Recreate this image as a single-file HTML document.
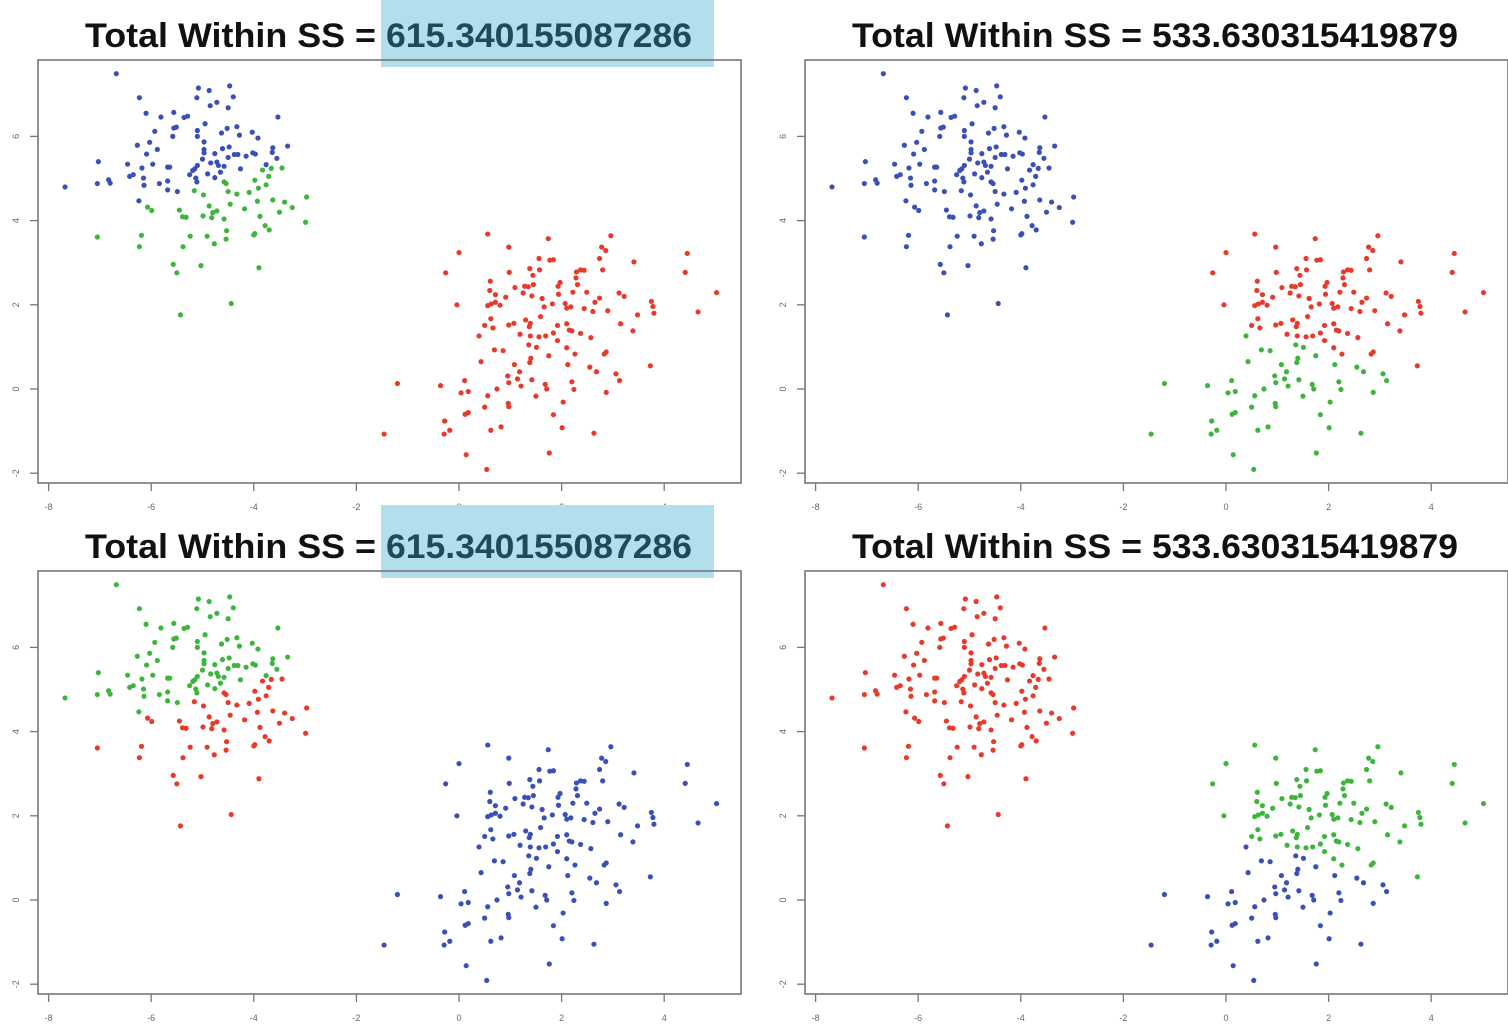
<!DOCTYPE html>
<html><head><meta charset="utf-8"><style>
body{margin:0;background:#fff;width:1508px;height:1028px;overflow:hidden}
svg{display:block}
</style></head><body>
<svg id="chart" width="1508" height="1028" font-family="Liberation Sans, sans-serif"></svg>
<script>
const leftUpperX=[-6.68,-6.23,-5.08,-4.87,-4.47,-4.40,-5.11,-4.72,-4.85,-4.50,-6.10,-5.81,-5.56,-5.36,-5.29,-3.53,-4.95,-5.56,-5.51,-5.93,-5.58,-5.10,-5.10,-4.52,-4.33,-4.63,-4.28,-4.03,-3.92,-6.27,-6.03,-5.88,-4.97,-4.97,-4.97,-4.61,-4.48,-4.76,-4.50,-4.38,-4.31,-4.15,-4.02,-3.97,-3.63,-3.64,-3.34,-3.55,-6.09,-7.03,-6.46,-5.97,-6.18,-5.68,-5.64,-6.42,-6.35,-6.15,-6.14,-6.83,-6.80,-7.05,-7.68,-5.84,-5.68,-5.68,-5.49,-5.25,-5.19,-5.15,-5.10,-5.13,-5.11,-5.00,-4.84,-4.72,-4.69,-4.58,-4.65,-4.90,-4.76,-4.26,-3.76,-6.24];
const leftUpperY=[7.49,6.92,7.15,7.09,7.20,6.94,6.92,6.81,6.73,6.68,6.55,6.46,6.57,6.45,6.48,6.46,6.30,6.20,6.22,6.12,6.00,6.14,6.00,6.19,6.23,6.08,6.03,6.10,5.96,5.79,5.86,5.69,5.87,5.69,5.61,5.71,5.75,5.59,5.50,5.57,5.57,5.53,5.61,5.58,5.73,5.62,5.77,5.48,5.58,5.40,5.34,5.34,5.25,5.27,5.27,5.05,5.09,5.01,4.84,4.97,4.89,4.88,4.80,4.88,4.94,4.73,4.69,5.09,5.19,5.23,5.31,5.01,4.92,5.46,5.37,5.39,5.31,5.29,5.15,5.11,5.02,5.23,5.33,4.47];
const leftLowerX=[-3.83,-3.66,-3.45,-3.71,-3.98,-3.76,-3.91,-4.09,-4.58,-4.54,-4.50,-4.33,-5.16,-4.98,-2.97,-4.46,-4.18,-3.93,-3.63,-3.40,-3.25,-3.50,-3.88,-4.87,-4.72,-4.80,-4.82,-4.99,-4.58,-5.45,-5.39,-5.32,-6.07,-5.99,-7.05,-6.19,-6.23,-5.24,-4.91,-4.53,-4.54,-4.77,-5.38,-4.00,-3.98,-3.78,-3.70,-2.99,-5.57,-5.50,-5.03,-3.90,-4.44,-5.43];
const leftLowerY=[5.20,5.24,5.25,5.05,4.96,4.85,4.77,4.67,4.92,4.88,4.69,4.63,4.71,4.61,4.56,4.39,4.28,4.46,4.49,4.44,4.31,4.20,4.10,4.35,4.23,4.19,4.07,4.11,4.04,4.25,4.09,4.08,4.32,4.24,3.61,3.65,3.38,3.63,3.63,3.76,3.56,3.45,3.38,3.66,3.69,3.88,3.78,3.96,2.96,2.76,2.93,2.88,2.03,1.76];
const rightUpperX=[0.56,1.74,2.96,0.97,0.00,2.78,2.86,4.45,1.56,1.77,1.84,2.74,3.41,-0.26,0.98,1.38,1.57,2.29,2.37,2.44,2.80,4.41,1.44,2.28,0.61,1.28,1.35,1.45,1.09,1.97,1.93,2.31,0.60,0.71,1.25,1.42,0.91,1.62,2.22,2.49,3.12,3.22,2.74,2.65,5.02,1.94,-0.04,0.56,0.63,0.71,0.80,1.66,1.82,2.07,2.10,2.18,2.44,2.61,2.90,3.75,3.78,3.80,4.66,3.48,0.62,0.50,0.66,0.97,1.07,1.30,1.39,1.37,1.59,1.92,2.10,2.15,2.20,3.15,3.39,1.19,1.39,1.56,1.69,1.84,1.92,2.37,2.57,2.10,2.26,2.83,2.87,3.73];
const rightUpperY=[3.68,3.57,3.64,3.37,3.24,3.37,3.29,3.22,3.10,3.06,3.07,3.10,3.02,2.76,2.77,2.86,2.83,2.78,2.83,2.82,2.83,2.77,2.70,2.64,2.56,2.44,2.43,2.48,2.41,2.53,2.44,2.48,2.34,2.24,2.28,2.21,2.18,2.15,2.30,2.30,2.28,2.20,2.16,2.06,2.29,2.25,2.00,1.98,2.02,2.06,1.99,1.95,2.02,2.03,1.92,1.95,1.91,1.84,1.86,2.08,1.96,1.80,1.83,1.76,1.67,1.51,1.45,1.52,1.56,1.64,1.56,1.48,1.72,1.51,1.55,1.40,1.38,1.55,1.38,1.30,1.26,1.24,1.26,1.33,1.15,1.32,1.22,0.98,0.83,0.83,0.88,0.55];
const rightLowerX=[0.39,1.36,1.51,0.69,0.86,1.75,0.43,1.08,1.18,1.38,1.40,2.12,2.55,2.68,3.06,3.13,0.11,-1.20,-0.36,0.95,0.97,1.14,1.21,1.42,1.68,1.71,2.20,2.24,2.87,0.04,0.18,0.74,0.56,1.50,2.03,0.50,0.96,0.97,0.12,0.18,1.84,-0.28,-1.46,-0.29,-0.18,0.62,0.82,2.01,2.63,0.14,1.76,0.54];
const rightLowerY=[1.26,1.05,0.99,0.93,0.91,0.79,0.65,0.58,0.41,0.63,0.73,0.58,0.52,0.41,0.36,0.20,0.20,0.13,0.08,0.31,0.15,0.24,0.07,0.22,0.11,0.00,0.17,-0.01,-0.08,-0.09,-0.06,0.00,-0.16,-0.17,-0.31,-0.43,-0.34,-0.42,-0.60,-0.56,-0.61,-0.76,-1.07,-1.07,-0.98,-0.98,-0.90,-0.92,-1.05,-1.56,-1.52,-1.91];
const xTicks=[-8,-6,-4,-2,0,2,4];
const yTicks=[-2,0,2,4,6];
const titlePrefix="Total Within SS =";
const titleValues=["615.340155087286","533.630315419879","615.340155087286","533.630315419879"];
const BLUE="#3a50b8",RED="#e83a2a",GREEN="#3db53d";
const colorMaps=[
 {LA:BLUE,LB:GREEN,RA:RED,RB:RED},
 {LA:BLUE,LB:BLUE,RA:RED,RB:GREEN},
 {LA:GREEN,LB:RED,RA:BLUE,RB:BLUE},
 {LA:RED,LB:RED,RA:GREEN,RB:BLUE}
];
const NS="http://www.w3.org/2000/svg";
const svg=document.getElementById('chart');
function mk(tag,attrs,parent){const e=document.createElementNS(NS,tag);for(const k in attrs)e.setAttribute(k,attrs[k]);(parent||svg).appendChild(e);return e;}
const groups=[["LA",leftUpperX,leftUpperY],["LB",leftLowerX,leftLowerY],["RA",rightUpperX,rightUpperY],["RB",rightLowerX,rightLowerY]];
const panelNames=['panel-top-left','panel-top-right','panel-bottom-left','panel-bottom-right'];
for(let p=0;p<4;p++){
  const dx=(p%2)*767, dy=Math.floor(p/2)*511;
  const hl=p%2===0;
  const g=mk('g',{});
  
  
  const sx=v=>dx+459+v*51.3;
  const sy=v=>dy+389-v*42.1;
  if(hl){
    const r=mk('rect',{x:381,y:p?505:0,width:333,height:p?73:67,fill:'#b3dfec'},g);
    
    
  }
  const t1=mk('text',{x:dx+85,y:dy+47,'font-size':'34','font-weight':'bold',fill:'#111',textLength:(hl?291:290),lengthAdjust:'spacingAndGlyphs'},g);
  
  
  t1.textContent=titlePrefix;
  const vx=hl?386:dx+385;
  const t2=mk('text',{x:vx,y:dy+47,'font-size':'34','font-weight':'bold',fill:hl?'#1f4a58':'#111',textLength:306,lengthAdjust:'spacingAndGlyphs'},g);
  
  
  t2.textContent=titleValues[p];
  const box=mk('rect',{x:dx+38,y:dy+60,width:703,height:423,fill:'none',stroke:'#777','stroke-width':1.6},g);
  
  
  for(const v of xTicks){
    const x=sx(v);
    const l=mk('line',{x1:x,x2:x,y1:dy+483,y2:dy+491,stroke:'#777','stroke-width':1.3},g);
    
    
    const tx=mk('text',{x:x,y:dy+510,'text-anchor':'middle','font-size':'9',fill:'#666'},g);
    
    
    tx.textContent=v;
  }
  for(const v of yTicks){
    const y=sy(v);
    const l=mk('line',{x1:dx+30,x2:dx+38,y1:y,y2:y,stroke:'#777','stroke-width':1.3},g);
    
    
    const ty=mk('text',{x:dx+19,y:y,'text-anchor':'middle','font-size':'9',fill:'#666',transform:`rotate(-90 ${dx+19} ${y})`},g);
    
    
    ty.textContent=v;
  }
  for(const [code,xs,ys] of groups){
    for(let i=0;i<xs.length;i++){
      const c=mk('circle',{cx:sx(xs[i]),cy:sy(ys[i]),r:2.6,fill:colorMaps[p][code]},g);
      
      
    }
  }
}
</script>
</body></html>
